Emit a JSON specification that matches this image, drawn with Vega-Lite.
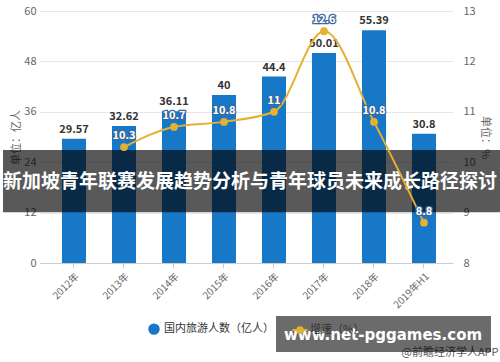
{
  "$schema": "https://vega.github.io/schema/vega-lite/v6.json",
  "width": 413,
  "height": 252,
  "autosize": {"type": "none"},
  "padding": {"left": 40, "top": 11, "right": 47, "bottom": 99},
  "config": {
    "view": {"stroke": null},
    "font": "Noto Sans CJK SC",
    "axis": {"labelFont": "Noto Sans CJK SC", "titleFont": "Noto Sans CJK SC"}
  },
  "datasets": {
    "main": [
      {"year": "2012年", "visitors": 29.57, "rate": null},
      {"year": "2013年", "visitors": 32.62, "rate": 10.3},
      {"year": "2014年", "visitors": 36.11, "rate": 10.7},
      {"year": "2015年", "visitors": 40, "rate": 10.8},
      {"year": "2016年", "visitors": 44.4, "rate": 11},
      {"year": "2017年", "visitors": 50.01, "rate": 12.6},
      {"year": "2018年", "visitors": 55.39, "rate": 10.8},
      {"year": "2019年H1", "visitors": 30.8, "rate": 8.8}
    ]
  },
  "data": {"name": "main"},
  "layer": [
    {
      "layer": [
        {
          "mark": {"type": "bar", "size": 24},
          "encoding": {
            "x": {
              "field": "year", "type": "nominal", "sort": null,
              "scale": {"paddingInner": 0.52, "paddingOuter": 0.39, "align": 0.564},
              "axis": {"title": null, "labelAngle": -45, "labelFontSize": 10, "labelColor": "#666", "domainColor": "#ccc", "tickColor": "#ccc", "tickSize": 5, "grid": false, "labelPadding": 3}
            },
            "y": {
              "field": "visitors", "type": "quantitative",
              "scale": {"domain": [0, 60], "nice": false},
              "axis": {"values": [0, 12, 24, 36, 48, 60], "title": "单位：亿人", "titleColor": "#666", "titleFontSize": 11, "titleFontWeight": "normal", "titlePadding": 2, "labelColor": "#666", "labelFontSize": 11, "labelPadding": 4, "domain": false, "ticks": false, "grid": true, "gridColor": "#e6e6e6"}
            },
            "color": {
              "datum": "国内旅游人数（亿人）",
              "scale": {"domain": ["国内旅游人数（亿人）", "增速（%）"], "range": ["#1878C8", "#E6B030"]},
              "legend": {
                "title": null, "orient": "none", "legendX": 108, "legendY": 312, "direction": "horizontal",
                "symbolType": "circle", "symbolSize": 90, "labelFontSize": 11, "labelColor": "#333", "columnPadding": 14, "zindex": -1,
                "encode": {
                  "symbols": {
                    "update": {
                      "shape": {"signal": "datum.label === '增速（%）' ? 'M-1.6,0L1.6,0M-0.6,0A0.6,0.6,0,1,1,0.6,0A0.6,0.6,0,1,1,-0.6,0' : 'circle'"},
                      "stroke": {"signal": "datum.label === '增速（%）' ? '#E6B030' : null"},
                      "strokeWidth": {"value": 2}
                    }
                  }
                }
              }
            }
          }
        },
        {
          "mark": {"type": "text", "dy": -9, "fontSize": 11, "fontWeight": "bold", "color": "#333"},
          "encoding": {
            "x": {"field": "year", "type": "nominal", "sort": null},
            "y": {"field": "visitors", "type": "quantitative"},
            "text": {"field": "visitors", "type": "nominal"}
          }
        },
        {
          "data": {"values": [{}]},
          "mark": {"type": "rect", "color": "#000", "opacity": 0.65, "xOffset": -59, "x2Offset": 64},
          "encoding": {
            "x": {"datum": "2012年", "type": "nominal", "bandPosition": 0},
            "x2": {"datum": "2019年H1", "bandPosition": 1},
            "y": {"datum": 26.9, "type": "quantitative"},
            "y2": {"datum": 12.1}
          }
        },
        {
          "data": {"values": [{}]},
          "mark": {"type": "text", "text": "新加坡青年联赛发展趋势分析与青年球员未来成长路径探讨", "fontSize": 19, "fontWeight": "bold", "color": "white", "dx": -12},
          "encoding": {
            "x": {"datum": "2016年", "type": "nominal", "bandPosition": 0},
            "y": {"datum": 19.4, "type": "quantitative"}
          }
        },
        {
          "data": {"values": [{}]},
          "mark": {"type": "text", "text": "@前瞻经济学人APP", "fontSize": 11, "color": "#555", "dx": 14},
          "encoding": {
            "x": {"datum": "2019年H1", "type": "nominal", "bandPosition": 1},
            "y": {"datum": -21.4, "type": "quantitative"}
          }
        },
        {
          "data": {"values": [{}]},
          "mark": {"type": "rect", "color": "#000", "opacity": 0.58, "xOffset": 14, "x2Offset": 55},
          "encoding": {
            "x": {"datum": "2016年", "type": "nominal", "bandPosition": 0},
            "x2": {"datum": "2019年H1", "bandPosition": 1},
            "y": {"datum": -12.6, "type": "quantitative"},
            "y2": {"datum": -21.2}
          }
        },
        {
          "data": {"values": [{}]},
          "mark": {"type": "text", "text": "www.net-pggames.com", "fontSize": 15, "fontWeight": "bold", "color": "white", "dx": 9, "font": "DejaVu Sans"},
          "encoding": {
            "x": {"datum": "2018年", "type": "nominal", "bandPosition": 0.5},
            "y": {"datum": -17.1, "type": "quantitative"}
          }
        }
      ]
    },
    {
      "transform": [{"filter": "datum.rate != null"}],
      "layer": [
        {
          "mark": {"type": "line", "interpolate": "monotone", "strokeWidth": 2, "point": {"filled": true, "size": 60}},
          "encoding": {
            "x": {"field": "year", "type": "nominal", "sort": null},
            "y": {
              "field": "rate", "type": "quantitative",
              "scale": {"domain": [8, 13], "nice": false, "zero": false},
              "axis": {"orient": "right", "values": [8, 9, 10, 11, 12, 13], "title": "单位：%", "titleColor": "#666", "titleFontSize": 11, "titleFontWeight": "normal", "titlePadding": 4, "labelColor": "#666", "labelFontSize": 11, "labelPadding": 10, "domain": false, "ticks": false, "grid": false}
            },
            "color": {"datum": "增速（%）"}
          }
        },
        {
          "mark": {"type": "text", "dy": -11, "fontSize": 11, "fontWeight": "bold", "color": "#3a6a9c", "stroke": "#3a6a9c", "strokeWidth": 2.5},
          "encoding": {
            "x": {"field": "year", "type": "nominal", "sort": null},
            "y": {"field": "rate", "type": "quantitative"},
            "text": {"field": "rate", "type": "nominal"}
          }
        },
        {
          "mark": {"type": "text", "dy": -11, "fontSize": 11, "fontWeight": "bold", "color": "white"},
          "encoding": {
            "x": {"field": "year", "type": "nominal", "sort": null},
            "y": {"field": "rate", "type": "quantitative"},
            "text": {"field": "rate", "type": "nominal"}
          }
        }
      ]
    }
  ],
  "resolve": {"scale": {"y": "independent"}}
}
